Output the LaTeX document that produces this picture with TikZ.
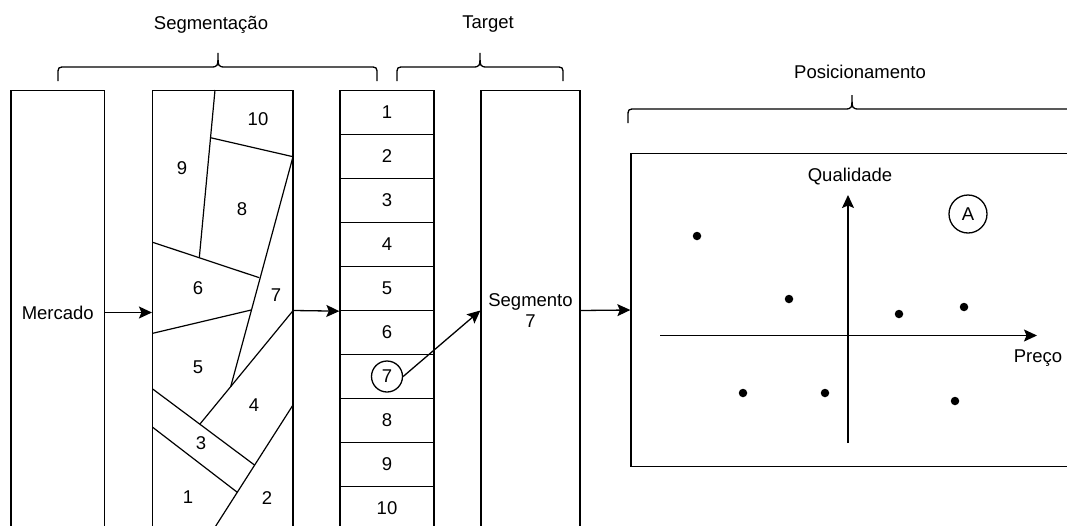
\documentclass[tikz,border=0pt]{standalone}
\usepackage{fontspec}
\setmainfont{Liberation Sans}
\usetikzlibrary{arrows.meta,positioning}

\begin{document}
\begin{tikzpicture}[
    x=1pt, y=-1pt,
    font=\fontsize{18.5}{21}\selectfont,
    line width=1.3pt,
    tallbox/.style={draw, inner sep=0pt, align=center},
    rowbox/.style={draw, minimum width=94pt, minimum height=44pt, inner sep=0pt},
    ring/.style={circle, draw, inner sep=0pt},
    dot/.style={circle, fill=black, inner sep=0pt, minimum size=8.5pt},
    flow/.style={-{Stealth[length=13pt, width=12pt, inset=2.5pt]}},
    cut/.style={line width=1.2pt}
]

\useasboundingbox (0,0) rectangle (1067,525);

% left x, middle x, right x, height of the bar
\newcommand{\curlybrace}[4]{
    \draw (#1,#4+14) -- (#1,#4+8) .. controls (#1,#4) .. (#1+8,#4) -- (#2-8,#4)
        .. controls (#2,#4) .. (#2,#4-14) .. controls (#2,#4) .. (#2+8,#4) -- (#3-8,#4)
        .. controls (#3,#4) .. (#3,#4+8) -- (#3,#4+14);
}

% headings
\curlybrace{58}{218}{377}{67}
\node (hseg) at (211,25) {Segmentação};
\curlybrace{397}{480}{563}{67}
\node (htarget) at (488,24) {Target};
\curlybrace{628}{852}{1076}{109}
\node (hpos) at (860,72) {Posicionamento};

% market
\node[tallbox, minimum width=93.5pt, minimum height=444pt] (mercado) at (57.75,312.5) {Mercado};

% segmentation
\node[tallbox, minimum width=140.5pt, minimum height=440pt] (seg) at (222.85,310.5) {};
\draw[cut] (215,90) -- (199.3,257.7);
\draw[cut] (210.5,137.7) -- (293,156.7);
\draw[cut] (293,156.7) -- (230.7,386.7);
\draw[cut] (152.7,242.3) -- (259.3,277.7);
\draw[cut] (152.7,333.3) -- (251.2,310);
\draw[cut] (293,310.7) -- (200,424);
\draw[cut] (152.7,389) -- (254.5,465);
\draw[cut] (152.7,427.3) -- (237.3,492.3);
\draw[cut] (293,405) -- (210,535);
\foreach \n/\x/\y in {10/258/119, 9/182/168, 8/242/209, 6/198/288, 7/276/295,
                     5/198/367, 4/254/405, 3/201/443, 1/188/497, 2/267/498}
    \node (s\n) at (\x,\y) {\n};

% list of segments
\foreach \i in {1,...,10}
    \node[rowbox] (r\i) at (387,68.5+44*\i) {\ifnum\i=7 \else\i\fi};
\node[ring, minimum size=31pt] (c7) at (r7) {7};

% chosen segment
\node[tallbox, minimum width=99pt, minimum height=440pt] (segmento) at (530.5,310.5) {Segmento\\7};

% positioning map
\node[tallbox, minimum width=445pt, minimum height=313pt] (pos) at (853.5,310) {};
\coordinate (ybot) at (848,443);
\coordinate (ytop) at (848,195);
\coordinate (xleft) at (660,335.5);
\coordinate (xright) at (1037,335.5);
\draw[flow] (ybot) -- (ytop);
\draw[flow] (xleft) -- (xright);
\node (qual) at (850,177) {Qualidade};
\node (preco) at (1038,358) {Preço};
\node[ring, minimum size=38pt] (marca) at (968,214) {A};
\foreach \n/\x/\y in {1/697/236, 2/789/299, 3/899/314, 4/964/307,
                     5/743/393, 6/825/393, 7/955/401}
    \node[dot] (d\n) at (\x,\y) {};

% flow
\draw[flow] (mercado.east) -- (mercado.east -| seg.west);
\draw[flow] (seg.east) -- (r5.south west);
\draw[flow] (c7.east) -- (segmento.west);
\draw[flow] (segmento.east) -- (pos.west);

\end{tikzpicture}
\end{document}
